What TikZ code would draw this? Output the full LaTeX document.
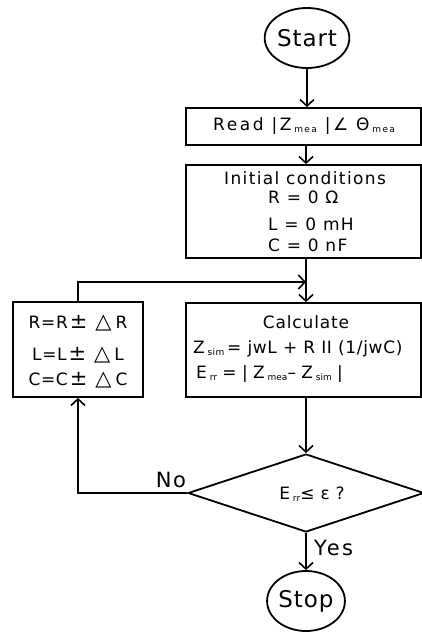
\documentclass[tikz,border=0pt]{standalone}
\usepackage{fontspec}
\setmainfont{DejaVu Sans}
\usetikzlibrary{arrows.meta,shapes.geometric}
\newcommand{\fsl}[2]{\fontsize{#1}{#1}\selectfont\addfontfeature{LetterSpace=#2}}
\newcommand{\sbs}[1]{\raisebox{-2pt}{\fontsize{9}{9}\selectfont #1}}
\newcommand{\bigsym}[1]{{\fontsize{21}{21}\selectfont #1}}
\tikzset{
  flow/.style={line width=1.8pt,-{Straight Barb[length=6.5pt,width=14pt,line width=1.6pt]}},
  plain/.style={line width=1.8pt},
  boxs/.style={draw,line width=1.8pt,rectangle,inner sep=0pt},
  term/.style={draw,line width=1.8pt,ellipse,inner sep=0pt,font=\fsl{23}{4}},
  txt/.style={inner sep=0pt,font=\fsl{17}{0}},
}
\begin{document}
\begin{tikzpicture}[x=1pt,y=-1pt]
\useasboundingbox (0,0) rectangle (422,635);
\node[term,minimum width=66pt,minimum height=60pt] (start) at (307,38) {Start};
\node[boxs,minimum width=235pt,minimum height=37pt] (read) at (303.5,126.5) {};
\node[txt,font=\fsl{17}{15},anchor=west] (readt) at (213,126.5) {Read\ |Z\,\sbs{mea}\ |∠\ Θ\,\sbs{mea}};
\node[boxs,minimum width=235pt,minimum height=93pt] (init) at (303.5,211.5) {};
\node[txt,font=\fsl{17}{8}] (initt) at (305,178) {Initial conditions};
\node[txt,font=\fsl{17}{8},anchor=west] (r0) at (268,197.5) {R = 0 Ω};
\node[txt,font=\fsl{17}{8},anchor=west] (l0) at (268,224) {L = 0 mH};
\node[txt,font=\fsl{17}{8},anchor=west] (c0) at (268,245) {C = 0 nF};
\node[boxs,minimum width=235pt,minimum height=94pt] (calc) at (303.5,350) {};
\node[txt,font=\fsl{17}{5}] (calct) at (306,322) {Calculate};
\node[txt,font=\fsl{17}{4},anchor=west] (zsim) at (193,349) {Z\,\sbs{sim}\,= jwL + R II (1/jwC)};
\node[txt,font=\fsl{17}{0},anchor=west] (err) at (196,374) {E\,\sbs{rr} = | Z\,\sbs{mea}– Z\,\sbs{sim} |};
\node[boxs,minimum width=130pt,minimum height=95pt] (upd) at (78,349.5) {};
\node[txt,font=\fsl{17}{4}] (ur) at (78,323) {R=R\hspace{2pt}\bigsym{±}\hspace{8pt}\bigsym{△}\hspace{4pt}R};
\node[txt,font=\fsl{17}{4}] (ul) at (78,355) {L=L\hspace{2pt}\bigsym{±}\hspace{8pt}\bigsym{△}\hspace{4pt}L};
\node[txt,font=\fsl{17}{4}] (uc) at (78,380) {C=C\hspace{2pt}\bigsym{±}\hspace{8pt}\bigsym{△}\hspace{4pt}C};
\node[draw,line width=1.8pt,diamond,aspect=3,minimum width=236pt,minimum height=78pt,inner sep=0pt] (dec) at (306,493) {};
\node[txt,font=\fsl{17}{3}] (dect) at (312,494) {E\,\sbs{rr}≤ ε ?};
\node[term,minimum width=68pt,minimum height=60pt] (stop) at (306,601) {Stop};
\coordinate (j) at (306,282);
\coordinate (nl) at (78,493);
\coordinate (nt) at (78,282);
\draw[flow] (start.south) -- (read.north -| start.south);
\draw[flow] (read.south -| j) -- (init.north -| j);
\draw[plain] (init.south -| j) -- (j);
\draw[flow] (j) -- (calc.north -| j);
\draw[flow] (calc.south -| j) -- (dec.north);
\draw[flow] (dec.south) -- (stop.north);
\draw[flow] (dec.west) -- (nl) -- (upd.south);
\draw[flow] (upd.north) -- (nt) -- (j);
\node[txt,font=\fsl{21}{8},anchor=base] (no) at (171,487) {No};
\node[txt,font=\fsl{21}{12},anchor=base west] (yes) at (314,555) {Yes};
\end{tikzpicture}
\end{document}
